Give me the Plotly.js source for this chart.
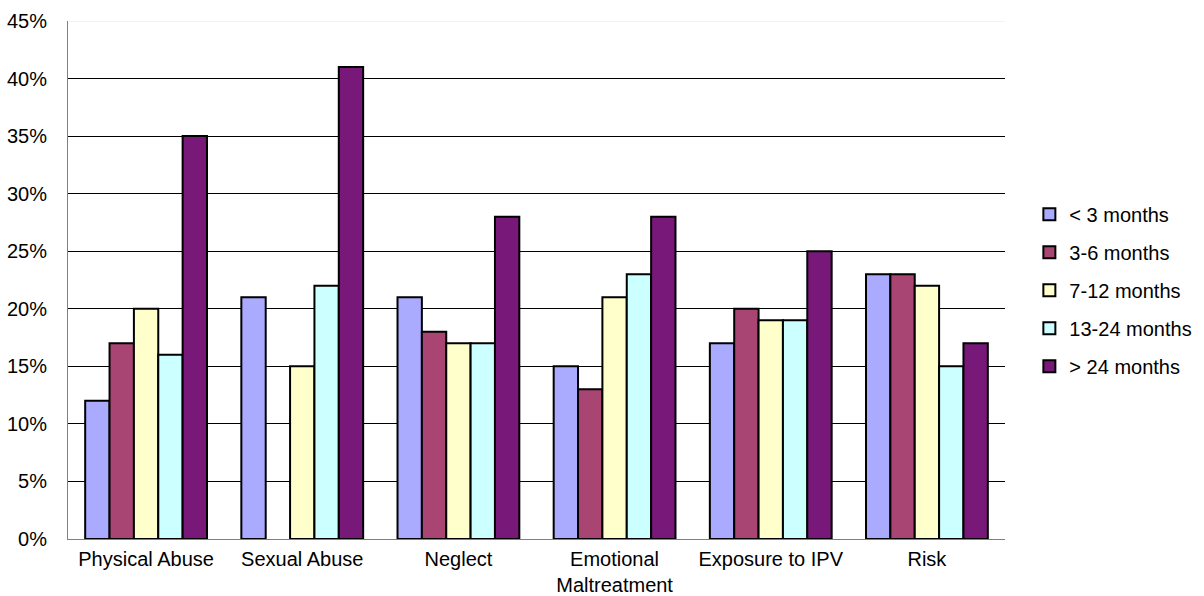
<!DOCTYPE html>
<html>
<head>
<meta charset="utf-8">
<script src="https://cdn.plot.ly/plotly-3.0.1.min.js"></script>
<style>html,body{margin:0;padding:0;background:#fff;}#chart{width:1204px;height:596px;}</style>
</head>
<body>
<div id="chart"></div>
<script>
const categories = ["Physical Abuse", "Sexual Abuse", "Neglect", "Emotional<br>Maltreatment", "Exposure to IPV", "Risk"];
const seriesNames = ["< 3 months", "3-6 months", "7-12 months", "13-24 months", "> 24 months"];
const lt3 = [0.12, 0.21, 0.21, 0.15, 0.17, 0.23];
const m3to6 = [0.17, null, 0.18, 0.13, 0.20, 0.23];
const m7to12 = [0.20, 0.15, 0.17, 0.21, 0.19, 0.22];
const m13to24 = [0.16, 0.22, 0.17, 0.23, 0.19, 0.15];
const gt24 = [0.35, 0.41, 0.28, 0.28, 0.25, 0.17];
const colors = ["#AAAAFF", "#A94573", "#FFFFCC", "#CCFFFF", "#781878"];
const tickVals = [0, 0.05, 0.10, 0.15, 0.20, 0.25, 0.30, 0.35, 0.40, 0.45];
const tickText = ["0%", "5%", "10%", "15%", "20%", "25%", "30%", "35%", "40%", "45%"];

const allSeries = [lt3, m3to6, m7to12, m13to24, gt24];
const traces = allSeries.map((vals, i) => ({
  type: "bar",
  name: seriesNames[i],
  x: categories,
  y: vals,
  legendgroup: "g" + i,
  marker: {color: colors[i], line: {color: "#000", width: 2}},
  hoverinfo: "x+y+name"
}));

const layout = {
  width: 1204, height: 596,
  margin: {l: 68, r: 199, t: 21, b: 57, autoexpand: false},
  paper_bgcolor: "#fff", plot_bgcolor: "#fff",
  font: {family: "Liberation Sans, Arial, sans-serif", size: 20, color: "#000"},
  barmode: "group",
  bargap: 0.22,
  bargroupgap: 0,
  showlegend: true,
  legend: {
    x: 1.026, xanchor: "left", y: 0.48, yanchor: "middle",
    font: {size: 20, color: "#000"},
    traceorder: "grouped",
    tracegroupgap: 9,
    itemwidth: 30,
    bgcolor: "rgba(0,0,0,0)"
  },
  xaxis: {
    showgrid: false,
    showline: true, linecolor: "#808080", linewidth: 1,
    ticks: "outside", ticklen: 2, tickcolor: "rgba(0,0,0,0)",
    tickfont: {size: 20},
    fixedrange: true
  },
  yaxis: {
    range: [0, 0.45],
    tickvals: tickVals, ticktext: tickText,
    showgrid: true, gridcolor: "#000", gridwidth: 1,
    showline: true, linecolor: "#808080", linewidth: 1,
    zeroline: false,
    ticks: "outside", ticklen: 16, tickcolor: "rgba(0,0,0,0)",
    tickfont: {size: 20},
    fixedrange: true
  },
  shapes: [{
    type: "line", xref: "paper", yref: "y", x0: 0.001, x1: 1, y0: 0.45, y1: 0.45,
    line: {color: "#eeeeee", width: 1.5}, layer: "above"
  }]
};

Plotly.newPlot("chart", traces, layout, {displayModeBar: false, staticPlot: true});
</script>
</body>
</html>
